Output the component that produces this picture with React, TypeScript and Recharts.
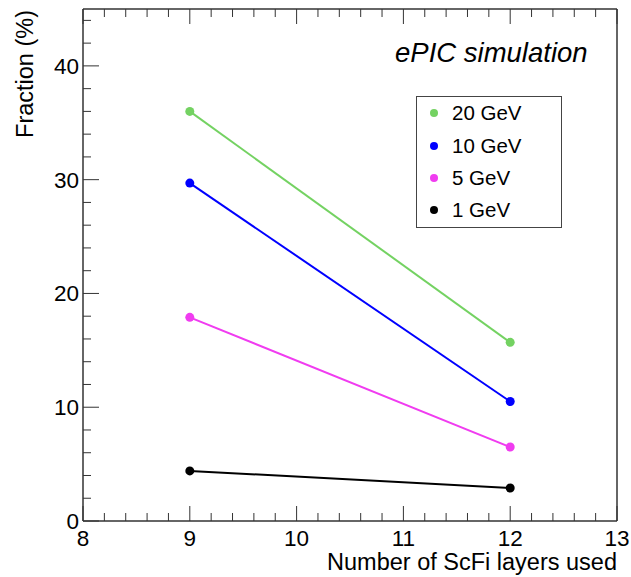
import React from "react";
import {
  LineChart,
  Line,
  XAxis,
  YAxis,
  Legend,
  Label,
} from "recharts";

const layers = [9, 12];
const gev20 = [36.0, 15.7];
const gev10 = [29.7, 10.5];
const gev5 = [17.9, 6.5];
const gev1 = [4.4, 2.9];

const series = [
  { key: "e20", name: "20 GeV", color: "#74d262", values: gev20 },
  { key: "e10", name: "10 GeV", color: "#0000ff", values: gev10 },
  { key: "e5", name: "5 GeV", color: "#f03cf0", values: gev5 },
  { key: "e1", name: "1 GeV", color: "#000000", values: gev1 },
];

const xMajor = [8, 9, 10, 11, 12, 13];
const yMajor = [0, 10, 20, 30, 40];

const data = layers.map((l, i) => {
  const row: Record<string, number> = { layers: l };
  series.forEach((s) => (row[s.key] = s.values[i]));
  return row;
});

// minor ticks: 5 subdivisions on x, 2 % steps on y
const xTicks: number[] = [];
for (let i = 0; i <= 25; i++) xTicks.push(Math.round((8 + i * 0.2) * 10) / 10);
const yTicks: number[] = [];
for (let v = 0; v <= 44; v += 2) yTicks.push(v);

const FONT = '"Liberation Sans", Arial, Helvetica, sans-serif';
const FRAME = "#333";
const isMajor = (v: number, list: number[]) => list.some((m) => Math.abs(m - v) < 1e-6);

const LeftTick = (props: any) => {
  const { x, y, payload } = props;
  const major = isMajor(payload.value, yMajor);
  return (
    <g>
      <line x1={x} x2={x + (major ? 16 : 8)} y1={y} y2={y} stroke={FRAME} strokeWidth={1} />
      {major && (
        <text x={x - 4} y={y + 8} textAnchor="end" fontSize={22.5} fontFamily={FONT} fill="#000">
          {payload.value}
        </text>
      )}
    </g>
  );
};

const RightTick = (props: any) => {
  const { x, y, payload } = props;
  const major = isMajor(payload.value, yMajor);
  return <line x1={x} x2={x - (major ? 16 : 8)} y1={y} y2={y} stroke={FRAME} strokeWidth={1} />;
};

const BottomTick = (props: any) => {
  const { x, y, payload } = props;
  const major = isMajor(payload.value, xMajor);
  return (
    <g>
      <line x1={x} x2={x} y1={y} y2={y - (major ? 15 : 8)} stroke={FRAME} strokeWidth={1} />
      {major && (
        <text x={x} y={y + 25} textAnchor="middle" fontSize={22.5} fontFamily={FONT} fill="#000">
          {payload.value}
        </text>
      )}
    </g>
  );
};

const TopTick = (props: any) => {
  const { x, y, payload } = props;
  const major = isMajor(payload.value, xMajor);
  return <line x1={x} x2={x} y1={y} y2={y + (major ? 15 : 8)} stroke={FRAME} strokeWidth={1} />;
};

const LegendBox = () => (
  <div
    style={{
      width: 146,
      height: 132,
      boxSizing: "border-box",
      border: "1.5px solid #444",
      background: "#fff",
      fontFamily: FONT,
      fontSize: 20.5,
      paddingTop: 0,
    }}
  >
    {series.map((s) => (
      <div key={s.key} style={{ height: 32.4, display: "flex", alignItems: "center" }}>
        <span
          style={{
            display: "inline-block",
            width: 8,
            height: 8,
            borderRadius: 4,
            background: s.color,
            marginLeft: 13,
            marginRight: 14,
          }}
        />
        <span>{s.name}</span>
      </div>
    ))}
  </div>
);

export default function App() {
  return (
    <div style={{ position: "absolute", left: 0, top: 0, width: 631, height: 577, background: "#fff" }}>
      <LineChart width={631} height={577} data={data} margin={{ top: 8, right: 13, left: 82, bottom: 55 }}>
        <XAxis
          dataKey="layers"
          type="number"
          domain={[8, 13]}
          ticks={xTicks}
          interval={0}
          height={1}
          tickSize={0}
          tickMargin={0}
          tick={BottomTick}
          axisLine={{ stroke: FRAME, strokeWidth: 1.5 }}
          tickLine={false}
        >
          <Label
            content={(p: any) => {
              const vb = p.viewBox;
              return (
                <text x={617} y={vb.y + 49} textAnchor="end" fontSize={23.5} fontFamily={FONT} fill="#000">
                  Number of ScFi layers used
                </text>
              );
            }}
          />
        </XAxis>
        <XAxis
          xAxisId="top"
          orientation="top"
          dataKey="layers"
          type="number"
          domain={[8, 13]}
          ticks={xTicks}
          interval={0}
          height={1}
          tickSize={0}
          tickMargin={0}
          tick={TopTick}
          axisLine={{ stroke: FRAME, strokeWidth: 1.5 }}
          tickLine={false}
        />
        <YAxis
          type="number"
          domain={[0, 45]}
          ticks={yTicks}
          interval={0}
          width={1}
          tickSize={0}
          tickMargin={0}
          tick={LeftTick}
          axisLine={{ stroke: FRAME, strokeWidth: 1.5 }}
          tickLine={false}
        >
          <Label
            content={(p: any) => {
              const vb = p.viewBox;
              const tx = 33;
              const ty = vb.y + 1;
              return (
                <text
                  x={tx}
                  y={ty}
                  transform={`rotate(-90, ${tx}, ${ty})`}
                  textAnchor="end"
                  fontSize={23.5}
                  fontFamily={FONT}
                  fill="#000"
                >
                  Fraction (%)
                </text>
              );
            }}
          />
        </YAxis>
        <YAxis
          yAxisId="right"
          orientation="right"
          type="number"
          domain={[0, 45]}
          ticks={yTicks}
          interval={0}
          width={1}
          tickSize={0}
          tickMargin={0}
          tick={RightTick}
          axisLine={{ stroke: FRAME, strokeWidth: 1.5 }}
          tickLine={false}
        />
        {series.map((s) => (
          <Line
            key={s.key}
            dataKey={s.key}
            name={s.name}
            stroke={s.color}
            strokeWidth={2}
            dot={{ r: 4.5, fill: s.color, stroke: s.color, strokeWidth: 0 }}
            isAnimationActive={false}
          />
        ))}
        <Legend
          layout="vertical"
          align="center"
          verticalAlign="middle"
          content={() => <LegendBox />}
          wrapperStyle={{ position: "absolute", left: 416, top: 96, width: 146, height: 132 }}
        />
      </LineChart>
      <div
        style={{
          position: "absolute",
          left: 395,
          top: 39,
          fontFamily: FONT,
          fontStyle: "italic",
          fontSize: 27.5,
          lineHeight: "27px",
          whiteSpace: "nowrap",
          color: "#000",
        }}
      >
        ePIC simulation
      </div>
    </div>
  );
}
